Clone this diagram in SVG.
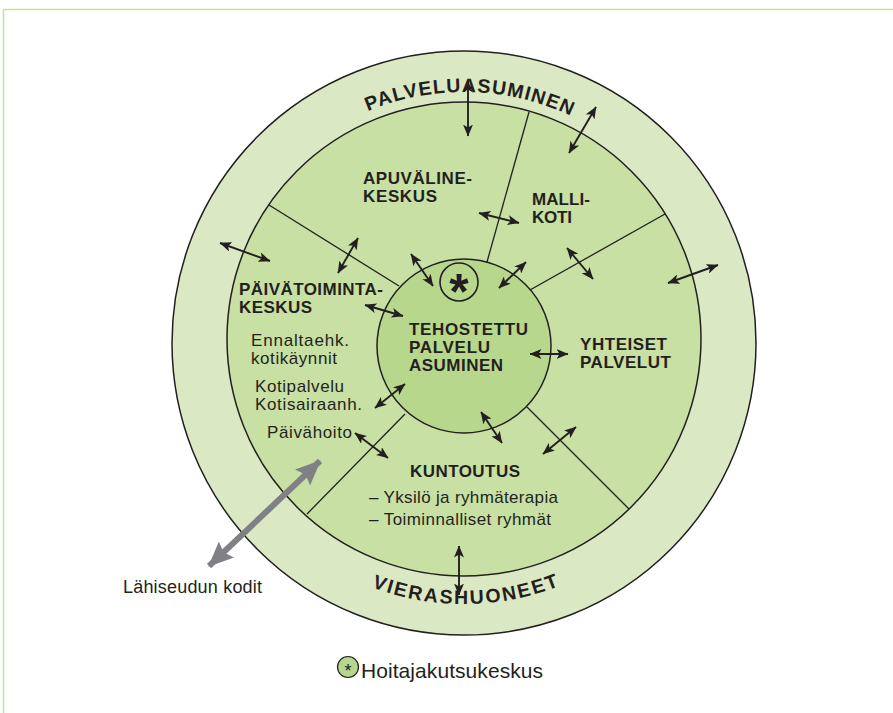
<svg xmlns="http://www.w3.org/2000/svg" width="893" height="713" viewBox="0 0 893 713">
  <style>
    .bold { font-family: "Liberation Sans", Arial, sans-serif; font-weight: bold; font-size: 17px; fill: #231f20; }
    .reg { font-family: "Liberation Sans", Arial, sans-serif; font-size: 17px; fill: #231f20; }
    .ring { font-family: "Liberation Sans", Arial, sans-serif; font-weight: bold; font-size: 19.5px; fill: #231f20; }
    .edge { stroke: #231f20; stroke-width: 1.5; }
    .sep { stroke: #231f20; stroke-width: 1.3; fill: none; }
    .arr { stroke: #231f20; stroke-width: 1.9; fill: none; marker-start: url(#ah); marker-end: url(#ah); }
    .garr { stroke: #808185; stroke-width: 6; fill: none; marker-start: url(#gh); marker-end: url(#gh); }
  </style>
  <defs>
    <marker id="ah" viewBox="0 0 12 10" refX="11.5" refY="5" markerWidth="12" markerHeight="10" markerUnits="userSpaceOnUse" orient="auto-start-reverse">
      <path d="M0,0 L12,5 L0,10 L3,5 z" fill="#231f20"/>
    </marker>
    <marker id="gh" viewBox="0 0 25 22" refX="24" refY="11" markerWidth="25" markerHeight="22" markerUnits="userSpaceOnUse" orient="auto-start-reverse">
      <path d="M0,0 L25,11 L0,22 L4,11 z" fill="#808185"/>
    </marker>
    <path id="topArc" d="M213,343 A251,251 0 0 1 715,343"/>
    <path id="botArc" d="M203,343 A261,261 0 0 0 725,343"/>
  </defs>

  <rect width="893" height="713" fill="#ffffff"/>
  <!-- frame -->
  <path d="M3.5,713 V9.5 H893" fill="none" stroke="#c6e1a4" stroke-width="1.6"/>

  <!-- outer ring -->
  <g id="ring-outer">
    <circle cx="464" cy="343" r="292" fill="#dae9c3" class="edge"/>
  </g>
  <!-- sector disk -->
  <g id="sector-disk">
    <circle cx="464" cy="339" r="237" fill="#c8e0a3" class="edge"/>
  </g>

  <!-- sector separators -->
  <g id="separators">
    <line x1="487" y1="262" x2="529" y2="112" class="sep"/>
    <line x1="530" y1="290" x2="665" y2="214" class="sep"/>
    <line x1="399" y1="286" x2="269" y2="205" class="sep"/>
    <line x1="405" y1="414" x2="307" y2="514" class="sep"/>
    <line x1="527" y1="407" x2="629" y2="509" class="sep"/>
  </g>

  <!-- centre -->
  <g id="tehostettu">
    <circle cx="464" cy="346" r="87" fill="#b7d78d" class="edge"/>
    <circle cx="459" cy="282" r="19" fill="none" stroke="#231f20" stroke-width="1.6"/>
    <text x="459" y="309" text-anchor="middle" font-family="Liberation Sans, Arial, sans-serif" font-weight="bold" font-size="50" fill="#231f20">*</text>
    <text class="bold" x="409" y="335" textLength="119" lengthAdjust="spacing">TEHOSTETTU</text>
    <text class="bold" x="409" y="353" textLength="81" lengthAdjust="spacing">PALVELU</text>
    <text class="bold" x="409" y="371" textLength="94" lengthAdjust="spacing">ASUMINEN</text>
  </g>

  <g id="palveluasuminen">
    <text class="ring" letter-spacing="1.2"><textPath href="#topArc" startOffset="50.8%" text-anchor="middle">PALVELUASUMINEN</textPath></text>
  </g>
  <g id="vierashuoneet">
    <text class="ring" letter-spacing="2"><textPath href="#botArc" startOffset="50.3%" text-anchor="middle">VIERASHUONEET</textPath></text>
  </g>

  <g id="apuvalinekeskus">
    <text class="bold" x="363" y="184" textLength="109" lengthAdjust="spacing">APUVÄLINE-</text>
    <text class="bold" x="363" y="202" textLength="74" lengthAdjust="spacing">KESKUS</text>
  </g>
  <g id="mallikoti">
    <text class="bold" x="532" y="205" textLength="58" lengthAdjust="spacing">MALLI-</text>
    <text class="bold" x="532" y="223" textLength="40" lengthAdjust="spacing">KOTI</text>
  </g>
  <g id="paivatoimintakeskus">
    <text class="bold" x="239" y="295" textLength="144" lengthAdjust="spacing">PÄIVÄTOIMINTA-</text>
    <text class="bold" x="239" y="313" textLength="73" lengthAdjust="spacing">KESKUS</text>
    <text class="reg" x="251" y="346" textLength="98" lengthAdjust="spacing">Ennaltaehk.</text>
    <text class="reg" x="251" y="364" textLength="86" lengthAdjust="spacing">kotikäynnit</text>
    <text class="reg" x="255" y="392" textLength="89" lengthAdjust="spacing">Kotipalvelu</text>
    <text class="reg" x="255" y="410" textLength="107" lengthAdjust="spacing">Kotisairaanh.</text>
    <text class="reg" x="267" y="438" textLength="85" lengthAdjust="spacing">Päivähoito</text>
  </g>
  <g id="yhteiset">
    <text class="bold" x="580" y="350" textLength="87" lengthAdjust="spacing">YHTEISET</text>
    <text class="bold" x="580" y="368" textLength="91" lengthAdjust="spacing">PALVELUT</text>
  </g>
  <g id="kuntoutus">
    <text class="bold" x="410" y="477" textLength="110" lengthAdjust="spacing">KUNTOUTUS</text>
    <text class="reg" x="369" y="503" textLength="189" lengthAdjust="spacing">– Yksilö ja ryhmäterapia</text>
    <text class="reg" x="369" y="525" textLength="182" lengthAdjust="spacing">– Toiminnalliset ryhmät</text>
  </g>
  <g id="lahiseudun-kodit">
    <text class="reg" x="123" y="593" style="font-size:18px" textLength="139" lengthAdjust="spacing">Lähiseudun kodit</text>
  </g>

  <!-- connectors -->
  <g id="connectors">
    <line x1="468" y1="81" x2="468" y2="136" class="arr"/>
    <line x1="596" y1="107" x2="569" y2="153" class="arr"/>
    <line x1="220" y1="243" x2="270" y2="261" class="arr"/>
    <line x1="358" y1="238" x2="338" y2="273" class="arr"/>
    <line x1="411" y1="254" x2="433" y2="286" class="arr"/>
    <line x1="365" y1="305" x2="403" y2="316" class="arr"/>
    <line x1="479" y1="213" x2="519" y2="223" class="arr"/>
    <line x1="526" y1="262" x2="499" y2="288" class="arr"/>
    <line x1="567" y1="248" x2="593" y2="279" class="arr"/>
    <line x1="718" y1="265" x2="668" y2="283" class="arr"/>
    <line x1="530" y1="354" x2="568" y2="354" class="arr"/>
    <line x1="405" y1="384" x2="375" y2="408" class="arr"/>
    <line x1="355" y1="433" x2="388" y2="458" class="arr"/>
    <line x1="481" y1="412" x2="502" y2="443" class="arr"/>
    <line x1="576" y1="427" x2="543" y2="454" class="arr"/>
    <line x1="459" y1="546" x2="459" y2="595" class="arr"/>
    <line x1="209" y1="566" x2="320" y2="461" class="garr"/>
  </g>

  <!-- legend -->
  <g id="legend">
    <circle cx="348" cy="667" r="10.5" fill="#b7d78d" stroke="#231f20" stroke-width="1.2"/>
    <text x="348" y="677" text-anchor="middle" font-family="Liberation Sans, Arial, sans-serif" font-size="18" fill="#231f20">*</text>
    <text class="reg" x="361" y="678" style="font-size:21px" textLength="182" lengthAdjust="spacing">Hoitajakutsukeskus</text>
  </g>
</svg>
